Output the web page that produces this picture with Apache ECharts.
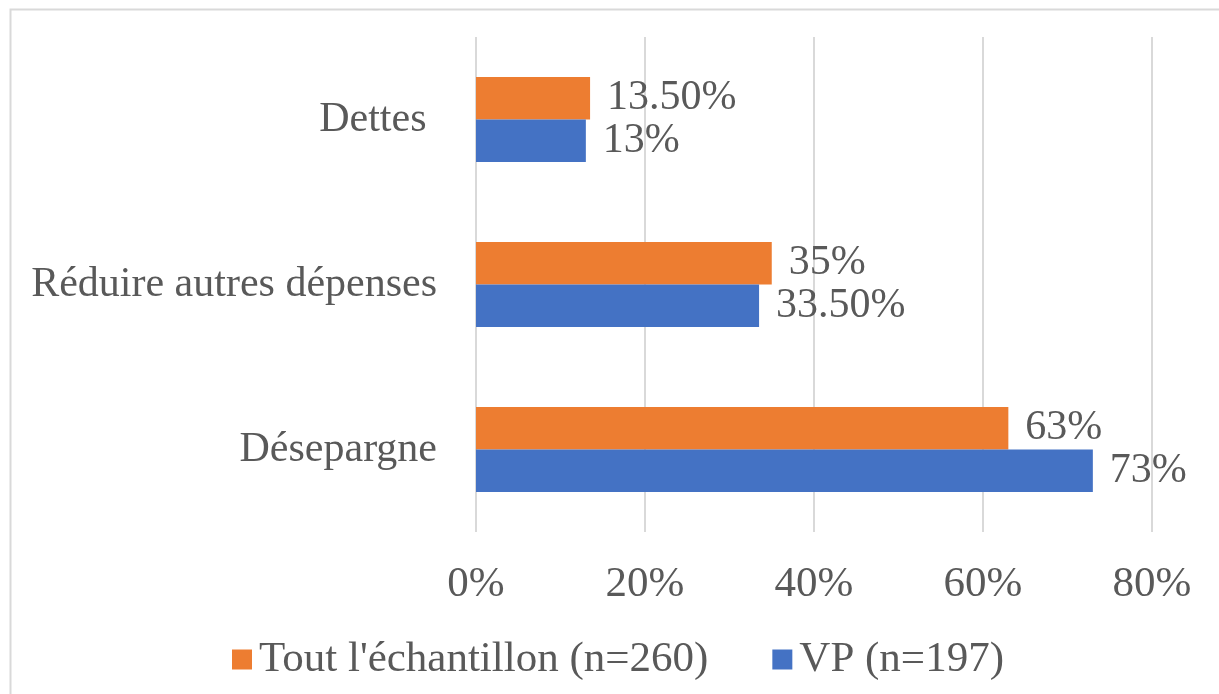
<!DOCTYPE html>
<html>
<head>
<meta charset="utf-8">
<script src="https://cdn.jsdelivr.net/npm/echarts@6/dist/echarts.min.js"></script>
<style>
html,body{margin:0;padding:0;background:#fff;}
#c{width:1219px;height:694px;}
</style>
</head>
<body>
<div id="c"></div>
<script>
const categories = ['Désepargne', 'Réduire autres dépenses', 'Dettes '];
const seriesNames = ["Tout l'échantillon (n=260)", 'VP (n=197)'];
const toutValues = [63, 35, 13.5];
const vpValues = [73, 33.5, 13];
const xTicks = { min: 0, max: 80, interval: 20 };

const FONT = '"Liberation Serif", "Times New Roman", serif';
const TXT = '#595959';
function fmt(v) { return (Number.isInteger(v) ? v : v.toFixed(2)) + '%'; }

const chart = echarts.init(document.getElementById('c'));
chart.setOption({
  animation: false,
  backgroundColor: '#fff',
  graphic: [{
    type: 'rect', left: 8, top: 7, silent: true,
    shape: { width: 1210, height: 700 },
    style: { fill: 'none', stroke: '#d9d9d9', lineWidth: 2 }
  }],
  grid: { left: 476, right: 67, top: 37, bottom: 162, containLabel: false },
  legend: {
    data: seriesNames,
    left: 227, top: 633,
    itemWidth: 20, itemHeight: 20, itemGap: 64,
    icon: 'rect',
    textStyle: { fontFamily: FONT, fontSize: 43, color: TXT, padding: [0, 0, 0, 2] }
  },
  xAxis: {
    type: 'value', min: xTicks.min, max: xTicks.max, interval: xTicks.interval,
    axisLine: { show: false }, axisTick: { show: false },
    splitLine: { show: true, lineStyle: { color: '#d9d9d9', width: 2 } },
    axisLabel: { formatter: '{value}%', fontFamily: FONT, fontSize: 43, color: TXT, margin: 31 }
  },
  yAxis: {
    type: 'category', data: categories,
    axisLine: { show: false }, axisTick: { show: false },
    axisLabel: { fontFamily: FONT, fontSize: 42, color: TXT, margin: 39 }
  },
  series: [
    {
      name: seriesNames[0], type: 'bar', data: toutValues,
      itemStyle: { color: '#ED7D31' },
      barGap: '0%', barCategoryGap: '48.5%',
      label: { show: true, position: 'right', distance: 17, formatter: p => fmt(p.value),
               fontFamily: FONT, fontSize: 42, color: TXT }
    },
    {
      name: seriesNames[1], type: 'bar', data: vpValues,
      itemStyle: { color: '#4472C4' },
      barGap: '0%', barCategoryGap: '48.5%',
      label: { show: true, position: 'right', distance: 17, formatter: p => fmt(p.value),
               fontFamily: FONT, fontSize: 42, color: TXT }
    }
  ]
});
</script>
</body>
</html>
